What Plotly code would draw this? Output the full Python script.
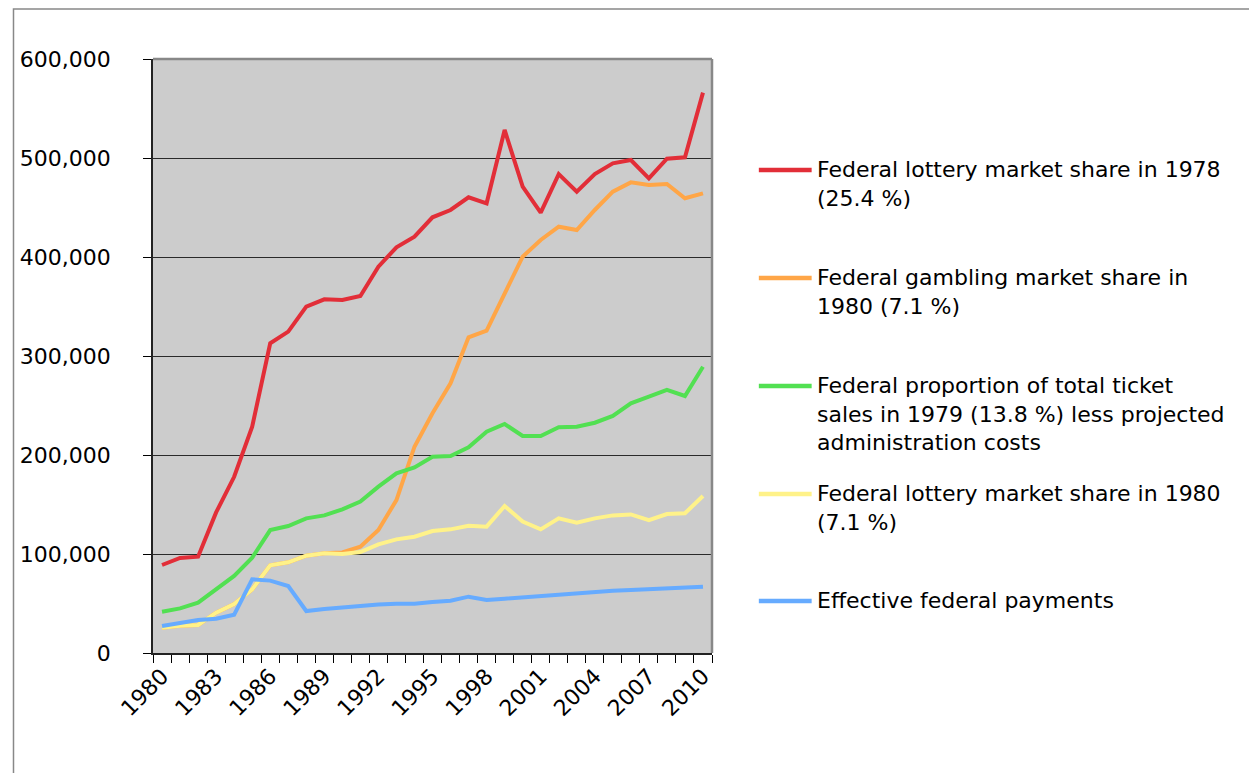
import plotly.graph_objects as go

years = list(range(1980, 2011))

lottery_1978 = [88900, 96000, 97300, 142000, 178000, 228600, 312800, 324600, 349800, 357200,
                356600, 360600, 390200, 409800, 420500, 440100, 447500, 460300, 454200, 528300,
                471000, 444800, 483800, 466000, 483800, 494600, 498000, 479500, 499300, 500700, 566000]
gambling_1980 = [25600, 27600, 28300, 40700, 49500, 64300, 88500, 91600, 98300, 100700,
                 101500, 107400, 124200, 154500, 208400, 242100, 272400, 318900, 325600, 363300,
                 400300, 417200, 430600, 427300, 447500, 466000, 475400, 472700, 473700, 459300, 464300]
ticket_1979 = [41700, 45100, 50800, 64300, 77800, 96300, 124200, 128300, 136000, 139000,
               145100, 152900, 168000, 181500, 187500, 198300, 199000, 207700, 223600, 231300,
               219200, 219200, 228000, 228600, 232600, 239400, 252200, 258900, 265700, 259600, 289200]
lottery_1980 = [25600, 27600, 28300, 40700, 49500, 64300, 88500, 91600, 98300, 100700,
                100000, 102000, 109800, 114800, 117500, 123200, 124900, 128600, 127600, 148500,
                132700, 124900, 136000, 131600, 136000, 139000, 140000, 134300, 140400, 141100, 158600]
effective = [27300, 30600, 33300, 34700, 38700, 74400, 73100, 67700, 42400, 44400,
             46100, 48100, 49100, 49800, 49800, 51500, 52800, 56900, 53500, 54800,
             56200, 57600, 59300, 60300, 61600, 62900, 63600, 64300, 65700, 66400, 67000]

series_names = [
    "Federal lottery market share in 1978<br>(25.4 %)",
    "Federal gambling market share in<br>1980 (7.1 %)",
    "Federal proportion of total ticket<br>sales in 1979 (13.8 %) less projected<br>administration costs",
    "Federal lottery market share in 1980<br>(7.1 %)",
    "Effective federal payments",
]
series_values = [lottery_1978, gambling_1980, ticket_1979, lottery_1980, effective]
series_colors = ["#e22e38", "#ffa647", "#52e052", "#fff289", "#66abff"]

x_tick_years = list(range(1980, 2011, 3))
y_tick_vals = [0, 100000, 200000, 300000, 400000, 500000, 600000]

OFF = 8  # page body margin
W, H = 1257 - OFF, 773 - OFF
# plot area in page pixels
L, R, T, B = 151, 712, 59, 653

fig = go.Figure()
for name, vals, col in zip(series_names, series_values, series_colors):
    fig.add_trace(go.Scatter(x=years, y=vals, mode="lines", name=name,
                             line=dict(color=col, width=4), showlegend=False))

def px_x(p):
    return (p - L) / (R - L)

def px_y(p):
    return (B - p) / (B - T)

shapes = []
annotations = []
# outer frame
shapes.append(dict(type="rect", xref="paper", yref="paper",
                   x0=px_x(11), x1=px_x(1270), y0=px_y(790), y1=px_y(9),
                   line=dict(color="#888888", width=1.5), layer="below"))
# plot-area top and right border
shapes.append(dict(type="line", xref="paper", yref="paper", x0=0, x1=1, y0=1, y1=1,
                   line=dict(color="#888888", width=2.5)))
shapes.append(dict(type="line", xref="paper", yref="paper", x0=1, x1=1, y0=0, y1=1,
                   line=dict(color="#888888", width=2.5)))

legend_y = [170, 278, 386, 494, 601]
for name, col, ly in zip(series_names, series_colors, legend_y):
    shapes.append(dict(type="line", xref="paper", yref="paper",
                       x0=px_x(759), x1=px_x(812), y0=px_y(ly), y1=px_y(ly),
                       line=dict(color=col, width=4.5)))
    annotations.append(dict(xref="paper", yref="paper", x=px_x(815), y=px_y(ly - 15.5),
                            xanchor="left", yanchor="top", align="left", showarrow=False,
                            text=name, font=dict(family="DejaVu Sans", size=22, color="#000")))

fig.update_layout(
    width=W, height=H,
    margin=dict(l=L - OFF, r=W - (R - OFF), t=T - OFF, b=H - (B - OFF), pad=0),
    paper_bgcolor="white",
    plot_bgcolor="#cccccc",
    font=dict(family="DejaVu Sans", size=22, color="#000"),
    shapes=shapes,
    annotations=annotations,
    xaxis=dict(range=[1979.5, 2010.5], tickmode="array", tickvals=x_tick_years,
               ticktext=[str(y) for y in x_tick_years], tickangle=-45,
               ticks="", showgrid=False, zeroline=False,
               showline=True, linecolor="#222222", linewidth=1.5,
               minor=dict(tickmode="array", tickvals=[1979.5 + k for k in range(32)],
                          ticks="outside", ticklen=8, tickcolor="#000", tickwidth=1, showgrid=False),
               tickfont=dict(family="DejaVu Sans", size=22, color="#000")),
    yaxis=dict(range=[0, 600000], tickmode="array", tickvals=y_tick_vals, tickformat=",",
               ticks="outside", ticklen=8, tickcolor="#000", tickwidth=1,
               showgrid=True, gridcolor="#2a2a2a", gridwidth=1, zeroline=False,
               showline=True, linecolor="#222222", linewidth=1.5,
               ticklabelstandoff=28,
               tickfont=dict(family="DejaVu Sans", size=22, color="#000")),
)

fig.write_html("out.html")
